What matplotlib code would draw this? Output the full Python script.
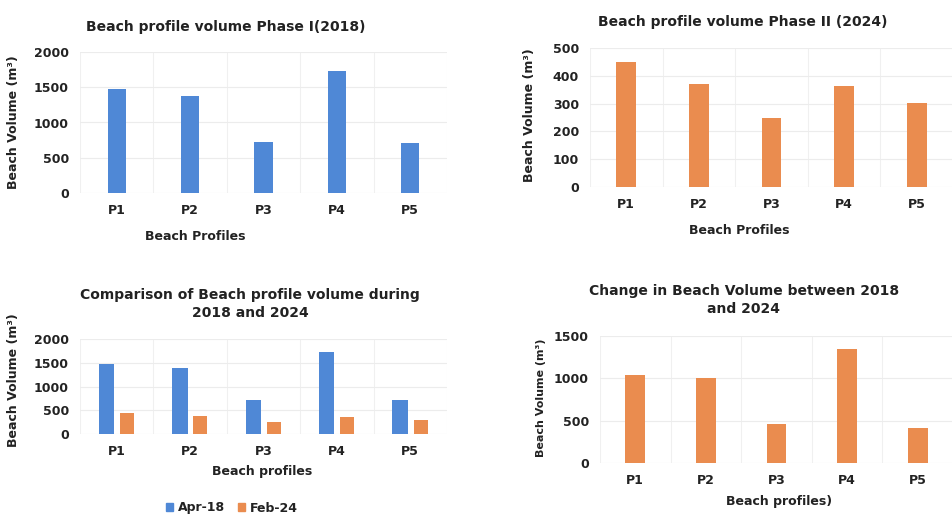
import matplotlib
matplotlib.use("Agg")
import matplotlib.pyplot as plt
import numpy as np
from matplotlib.patches import Patch

profiles = ["P1", "P2", "P3", "P4", "P5"]
vol_2018 = [1480, 1380, 720, 1730, 715]
vol_2024 = [450, 370, 250, 365, 302]
vol_change = [1035, 1000, 465, 1345, 410]

blue = "#4f88d6"
orange = "#ea8c4f"
txt = "#222222"

plt.rcParams["font.family"] = ["DejaVu Sans"]
plt.rcParams["font.weight"] = "bold"

W, H = 953, 528
fig = plt.figure(figsize=(W / 100, H / 100), dpi=100)


def box(x0, y0, x1, y1):
    # pixel box -> figure fraction
    return [x0 / W, 1 - y1 / H, (x1 - x0) / W, (y1 - y0) / H]


def style(ax, ymax, step):
    x = np.arange(len(profiles))
    ax.set_xlim(-0.5, 4.5)
    ax.set_ylim(0, ymax)
    ax.set_yticks(np.arange(0, ymax + 1, step))
    ax.set_xticks(x)
    ax.set_xticklabels(profiles)
    for s in ax.spines.values():
        s.set_visible(False)
    ax.set_xticks(np.arange(-0.5, 5, 1), minor=True)
    ax.tick_params(which="both", length=0, labelsize=9, colors=txt, pad=8)
    for lab in ax.get_xticklabels() + ax.get_yticklabels():
        lab.set_fontweight("bold")
    ax.grid(True, axis="y", color="#ececec", lw=0.8)
    ax.grid(True, axis="x", which="minor", color="#f0f0f0", lw=0.8)
    ax.set_axisbelow(True)
    return x


def ftext(x, y, s, **kw):
    kw.setdefault("fontsize", 9)
    kw.setdefault("fontweight", "bold")
    kw.setdefault("color", txt)
    fig.text(x / W, 1 - y / H, s, ha="center", va="center", **kw)


# chart 1
ax1 = fig.add_axes(box(80, 52, 447, 193))
x = style(ax1, 2000, 500)
ax1.bar(x, vol_2018, width=0.25, color=blue)
ftext(226, 27, "Beach profile volume Phase I(2018)", fontsize=10)
ftext(14, 122, "Beach Volume (m³)", rotation=90)
ftext(195, 237, "Beach Profiles")

# chart 2
ax2 = fig.add_axes(box(590, 48, 953, 187))
x = style(ax2, 500, 100)
ax2.bar(x, vol_2024, width=0.27, color=orange)
ftext(743, 22, "Beach profile volume Phase II (2024)", fontsize=10)
ftext(530, 115, "Beach Volume (m³)", rotation=90)
ftext(739, 231, "Beach Profiles")

# chart 3
ax3 = fig.add_axes(box(80, 339, 447, 434))
x = style(ax3, 2000, 500)
ax3.bar(x - 0.14, vol_2018, width=0.21, color=blue)
ax3.bar(x + 0.14, vol_2024, width=0.19, color=orange)
ftext(250, 304, "Comparison of Beach profile volume during\n2018 and 2024",
      fontsize=10, linespacing=1.3)
ftext(14, 380, "Beach Volume (m³)", rotation=90)
ftext(262, 472, "Beach profiles")
handles = [Patch(color=blue, label="Apr-18"), Patch(color=orange, label="Feb-24")]
fig.legend(handles=handles, loc="center", bbox_to_anchor=(232 / W, 1 - 508 / H),
           ncol=2, frameon=False, handlelength=0.6, handleheight=0.6,
           columnspacing=1.0, handletextpad=0.4,
           prop={"size": 9, "weight": "bold"}, labelcolor=txt)

# chart 4
ax4 = fig.add_axes(box(600, 336, 953, 463))
x = style(ax4, 1500, 500)
ax4.bar(x, vol_change, width=0.28, color=orange)
ftext(744, 300, "Change in Beach Volume between 2018\nand 2024",
      fontsize=10, linespacing=1.3)
ftext(541, 398, "Beach Volume (m³)", rotation=90, fontsize=8)
ftext(779, 502, "Beach profiles)")

fig.savefig("out.png", dpi=100, facecolor="white")
